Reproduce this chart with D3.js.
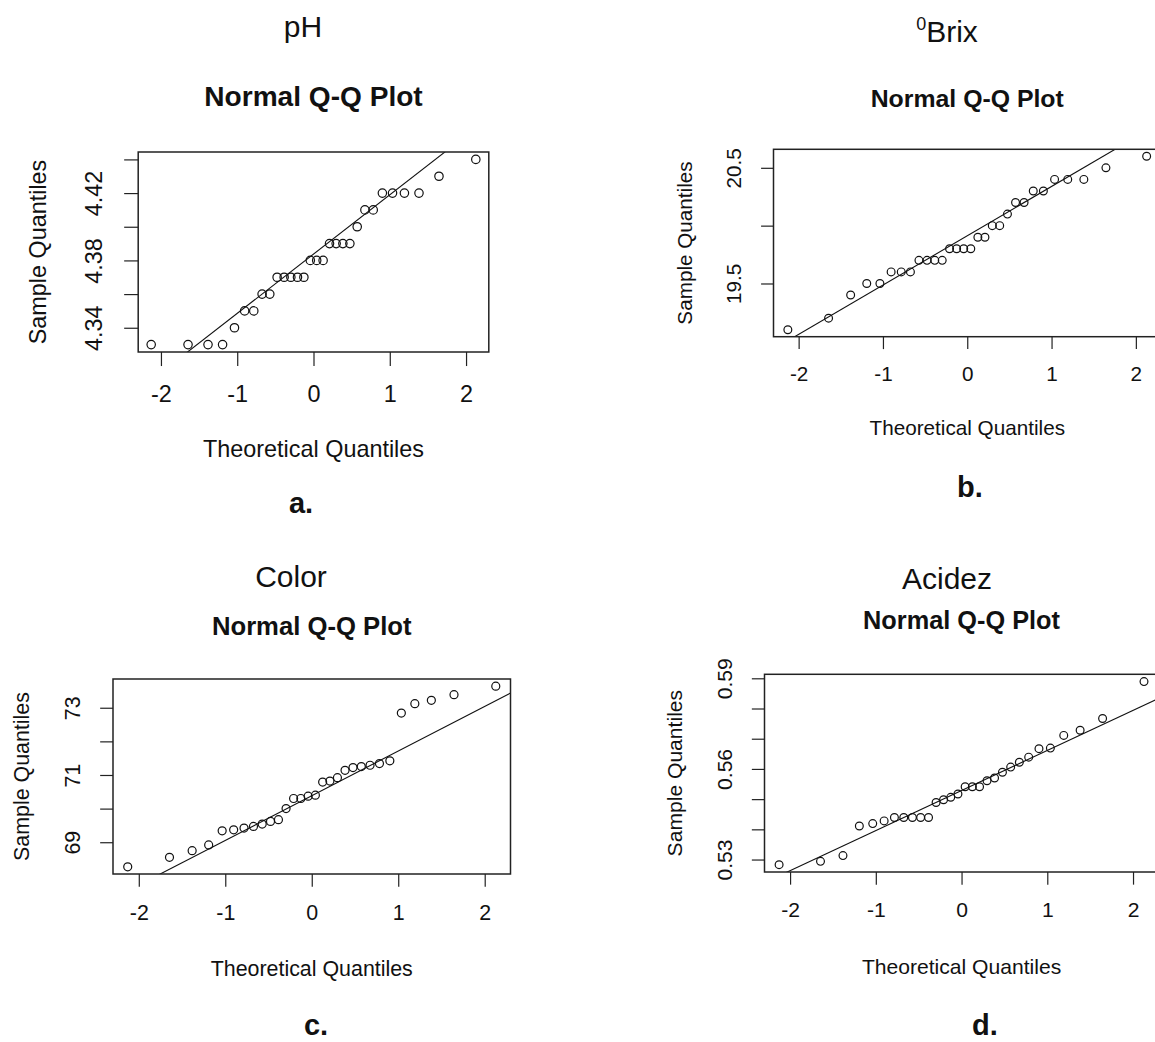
<!DOCTYPE html>
<html>
<head>
<meta charset="utf-8">
<script src="https://cdn.jsdelivr.net/npm/d3@7"></script>
<style>
  body { margin: 0; background: #fff; }
  svg { display: block; }
  text { font-family: "Liberation Sans", Arial, sans-serif; fill: #111; }
</style>
</head>
<body>
<div id="chart"></div>
<script>
var svgWidth = 1155;
var svgHeight = 1042;

// theoretical normal quantiles for n = 30 (same x values in every plot)
var theoretical = [-2.128, -1.645, -1.383, -1.192, -1.036, -0.903, -0.783, -0.674, -0.573, -0.477,
  -0.385, -0.297, -0.210, -0.126, -0.042, 0.042, 0.126, 0.210, 0.297, 0.385,
  0.477, 0.573, 0.674, 0.783, 0.903, 1.036, 1.192, 1.383, 1.645, 2.128];

var xTicks = [-2, -1, 0, 1, 2];

// sorted sample values
var phValues = [4.33, 4.33, 4.33, 4.33, 4.34, 4.35, 4.35, 4.36, 4.36, 4.37,
  4.37, 4.37, 4.37, 4.37, 4.38, 4.38, 4.38, 4.39, 4.39, 4.39,
  4.39, 4.40, 4.41, 4.41, 4.42, 4.42, 4.42, 4.42, 4.43, 4.44];
var phTicks = [4.34, 4.36, 4.38, 4.40, 4.42, 4.44];
var phTickLabels = ["4.34", "", "4.38", "", "4.42", ""];

var brixValues = [19.1, 19.2, 19.4, 19.5, 19.5, 19.6, 19.6, 19.6, 19.7, 19.7,
  19.7, 19.7, 19.8, 19.8, 19.8, 19.8, 19.9, 19.9, 20.0, 20.0,
  20.1, 20.2, 20.2, 20.3, 20.3, 20.4, 20.4, 20.4, 20.5, 20.6];
var brixTicks = [19.5, 20.0, 20.5];
var brixTickLabels = ["19.5", "", "20.5"];

var colorValues = [68.27, 68.55, 68.75, 68.92, 69.34, 69.37, 69.42, 69.47, 69.54, 69.62,
  69.67, 70.00, 70.30, 70.30, 70.37, 70.40, 70.79, 70.82, 70.92, 71.14,
  71.22, 71.25, 71.29, 71.34, 71.42, 72.84, 73.12, 73.22, 73.39, 73.64];
var colorTicks = [69, 70, 71, 72, 73];
var colorTickLabels = ["69", "", "71", "", "73"];

var acidezValues = [0.5283, 0.5294, 0.5313, 0.5411, 0.5419, 0.5428, 0.5439, 0.5439, 0.5439, 0.5439,
  0.5439, 0.5489, 0.5498, 0.5506, 0.5517, 0.5541, 0.5541, 0.5541, 0.5561, 0.5570,
  0.5589, 0.5606, 0.5622, 0.5639, 0.5667, 0.5669, 0.5711, 0.5728, 0.5767, 0.5889];
var acidezTicks = [0.53, 0.54, 0.55, 0.56, 0.57, 0.58, 0.59];
var acidezTickLabels = ["0.53", "", "", "0.56", "", "", "0.59"];

// layout of the four pictures (each one was scaled a bit differently)
var panels = [
  {id: "a", values: phValues, ticks: phTicks, tickLabels: phTickLabels,
   heading: "pH", letter: "a.", font: 23.4, r: 4.2, titleGap: 1.95, xLabGap: 4.5,
   box: {x0: 138.2, y0: 152, x1: 488.8, y1: 352},
   headingX: 303, headingY: 37, letterX: 301, letterY: 513},
  {id: "b", values: brixValues, ticks: brixTicks, tickLabels: brixTickLabels,
   heading: "Brix", sup: "0", letter: "b.", font: 20.7, r: 3.9, titleGap: 2.05, xLabGap: 4.75,
   box: {x0: 773.5, y0: 149.3, x1: 1161, y1: 336.7},
   headingX: 947, headingY: 42, letterX: 970, letterY: 497},
  {id: "c", values: colorValues, ticks: colorTicks, tickLabels: colorTickLabels,
   heading: "Color", letter: "c.", font: 21.4, r: 4, titleGap: 2.05, xLabGap: 4.77,
   box: {x0: 113, y0: 679, x1: 510.5, y1: 874},
   headingX: 291, headingY: 587, letterX: 316, letterY: 1035},
  {id: "d", values: acidezValues, ticks: acidezTicks, tickLabels: acidezTickLabels,
   heading: "Acidez", letter: "d.", font: 21.1, r: 3.9, titleGap: 2.15, xLabGap: 4.85,
   box: {x0: 764.5, y0: 674.3, x1: 1158.6, y1: 872},
   headingX: 947, headingY: 589, letterX: 985, letterY: 1035}
];

var svg = d3.select("#chart")
  .append("svg")
  .attr("width", svgWidth)
  .attr("height", svgHeight);

// R style range: data extent widened by 4% on each side
function padded(values) {
  var ext = d3.extent(values);
  var pad = (ext[1] - ext[0]) * 0.04;
  return [ext[0] - pad, ext[1] + pad];
}

function drawPanel(p) {
  var f = p.font;
  var box = p.box;
  var tickLen = 0.6 * f;

  var x = d3.scaleLinear()
    .domain(padded(theoretical))
    .range([box.x0, box.x1]);

  var y = d3.scaleLinear()
    .domain(padded(p.values))
    .range([box.y1, box.y0]);

  var g = svg.append("g").attr("class", "panel-" + p.id);

  // heading above the picture
  var head = g.append("text")
    .attr("x", p.headingX)
    .attr("y", p.headingY)
    .attr("text-anchor", "middle")
    .style("font-size", "30px");
  if (p.sup) {
    head.append("tspan").attr("dy", -12).style("font-size", "18px").text(p.sup);
    head.append("tspan").attr("dy", 12).text(p.heading);
  } else {
    head.text(p.heading);
  }

  // plot title
  g.append("text")
    .attr("x", (box.x0 + box.x1) / 2)
    .attr("y", box.y0 - p.titleGap * f)
    .attr("text-anchor", "middle")
    .style("font-size", (1.2 * f) + "px")
    .style("font-weight", "bold")
    .text("Normal Q-Q Plot");

  // x axis
  var xAxis = g.append("g")
    .attr("transform", `translate(0, ${box.y1})`)
    .call(d3.axisBottom(x)
      .tickValues(xTicks)
      .tickSize(tickLen)
      .tickPadding(1.44 * f - tickLen)
      .tickFormat(d => String(d)));
  xAxis.select(".domain").remove();
  xAxis.selectAll("line").attr("stroke", "#222").attr("stroke-width", 1.2);
  xAxis.selectAll("text")
    .attr("fill", "#111")
    .style("font-size", f + "px")
    .style("font-family", "'Liberation Sans', Arial, sans-serif");

  // y axis, labels turned like R does
  var yAxis = g.append("g")
    .attr("transform", `translate(${box.x0}, 0)`)
    .call(d3.axisLeft(y)
      .tickValues(p.ticks)
      .tickSize(tickLen)
      .tickFormat((d, i) => p.tickLabels[i]));
  yAxis.select(".domain").remove();
  yAxis.selectAll("line").attr("stroke", "#222").attr("stroke-width", 1.2);
  yAxis.selectAll("text")
    .attr("transform", "rotate(-90)")
    .attr("x", 0)
    .attr("y", -1.55 * f)
    .attr("dy", 0)
    .attr("text-anchor", "middle")
    .attr("fill", "#111")
    .style("font-size", f + "px")
    .style("font-family", "'Liberation Sans', Arial, sans-serif");

  // axis titles
  g.append("text")
    .attr("x", (box.x0 + box.x1) / 2)
    .attr("y", box.y1 + p.xLabGap * f)
    .attr("text-anchor", "middle")
    .style("font-size", f + "px")
    .text("Theoretical Quantiles");

  g.append("text")
    .attr("transform", `translate(${box.x0 - 3.92 * f}, ${(box.y0 + box.y1) / 2}) rotate(-90)`)
    .attr("text-anchor", "middle")
    .style("font-size", f + "px")
    .text("Sample Quantiles");

  // reference line through the quartiles (qqline)
  var q1 = d3.quantile(p.values, 0.25);
  var q3 = d3.quantile(p.values, 0.75);
  var z = 0.6745;
  var slope = (q3 - q1) / (2 * z);
  var mid = (q1 + q3) / 2;
  var xd = x.domain();

  g.append("clipPath")
    .attr("id", "clip-" + p.id)
    .append("rect")
    .attr("x", box.x0)
    .attr("y", box.y0)
    .attr("width", box.x1 - box.x0)
    .attr("height", box.y1 - box.y0);

  g.append("line")
    .attr("clip-path", `url(#clip-${p.id})`)
    .attr("x1", x(xd[0]))
    .attr("y1", y(mid + slope * xd[0]))
    .attr("x2", x(xd[1]))
    .attr("y2", y(mid + slope * xd[1]))
    .attr("stroke", "#111")
    .attr("stroke-width", 1.1);

  // points
  g.append("g")
    .selectAll("circle")
    .data(p.values)
    .enter()
    .append("circle")
    .attr("cx", (d, i) => x(theoretical[i]))
    .attr("cy", d => y(d))
    .attr("r", p.r)
    .attr("fill", "none")
    .attr("stroke", "#111")
    .attr("stroke-width", 1.2);

  // frame
  g.append("rect")
    .attr("x", box.x0)
    .attr("y", box.y0)
    .attr("width", box.x1 - box.x0)
    .attr("height", box.y1 - box.y0)
    .attr("fill", "none")
    .attr("stroke", "#222")
    .attr("stroke-width", 1.5);

  // caption letter
  g.append("text")
    .attr("x", p.letterX)
    .attr("y", p.letterY)
    .attr("text-anchor", "middle")
    .style("font-size", "29px")
    .style("font-weight", "bold")
    .text(p.letter);
}

panels.forEach(drawPanel);
</script>
</body>
</html>
